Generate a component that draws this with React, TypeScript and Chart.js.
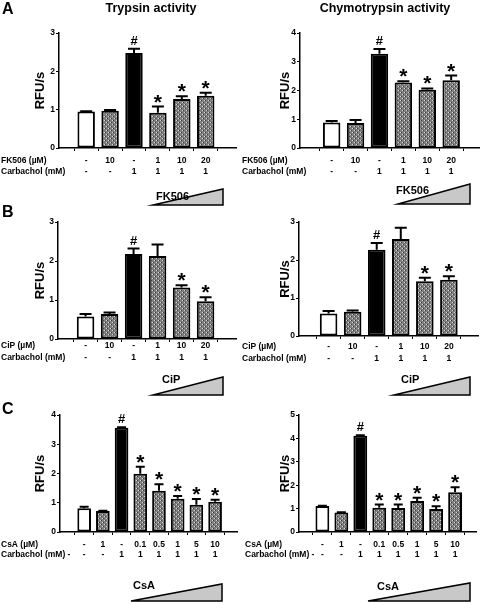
import React, { useEffect, useRef } from 'react';
import { Chart, registerables } from 'chart.js';

Chart.register(...registerables);

const FONT = '"Liberation Sans", Arial, sans-serif';

// ---------- data ----------
const trypsinFK = [0.95, 0.97, 2.48, 0.92, 1.28, 1.36];
const trypsinFKErr = [0.01, 0.02, 0.11, 0.16, 0.07, 0.08];
const chymoFK = [0.89, 0.87, 3.28, 2.28, 2.03, 2.36];
const chymoFKErr = [0.05, 0.1, 0.16, 0.04, 0.04, 0.16];

const trypsinCiP = [0.58, 0.64, 2.18, 2.13, 1.32, 0.97];
const trypsinCiPErr = [0.06, 0.04, 0.14, 0.29, 0.06, 0.1];
const chymoCiP = [0.59, 0.64, 2.27, 2.55, 1.44, 1.48];
const chymoCiPErr = [0.07, 0.03, 0.18, 0.3, 0.09, 0.09];

const trypsinCsA = [0.81, 0.72, 3.56, 1.99, 1.41, 1.14, 0.93, 1.03];
const trypsinCsAErr = [0.05, 0.01, 0.02, 0.24, 0.22, 0.09, 0.2, 0.07];
const chymoCsA = [1.11, 0.83, 4.11, 1.04, 1.03, 1.32, 0.98, 1.7];
const chymoCsAErr = [0.01, 0.01, 0.02, 0.13, 0.14, 0.14, 0.12, 0.21];

const marksAB6 = ['', '', '#', '*', '*', '*'];
const marksB6 = ['', '', '#', '', '*', '*'];
const marksC8 = ['', '', '#', '*', '*', '*', '*', '*'];

const groups6 = ['control', 'drug', 'carbachol', 'combo', 'combo', 'combo'];
const groups8 = ['control', 'drug', 'carbachol', 'combo', 'combo', 'combo', 'combo', 'combo'];

const fk506Doses = ['-', '10', '-', '1', '10', '20'];
const cipDoses = ['-', '10', '-', '1', '10', '20'];
const csaDoses = ['-', '1', '-', '0.1', '0.5', '1', '5', '10'];
const carbachol6 = ['-', '-', '1', '1', '1', '1'];
const carbachol8 = ['-', '-', '1', '1', '1', '1', '1', '1'];

const yMaxA = [3, 4];
const yMaxB = [3, 3];
const yMaxC = [4, 5];

type Wedge = { label: string; x0: number; x1: number; yb: number; yt: number; tx: number; ty: number };
type Cfg = {
  left: number; top: number; width: number; height: number;
  area: { l: number; r: number; t: number; b: number };
  gapL: number; gapR: number; yMax: number;
  values: number[]; errors: number[]; marks: string[]; groups: string[];
  rowNames: string[]; rows: string[][]; rowLabelX: number; rowY: number[];
  yTitleX: number; capHalf: number;
  title?: { text: string; x: number; y: number };
  letter?: { text: string; x: number; y: number };
  wedge: Wedge;
};

const panels: Cfg[] = [
  {
    left: 0, top: 0, width: 240, height: 212,
    area: { l: 59, r: 236, t: 33, b: 148 }, gapL: 0.02, gapR: 0.15, yMax: yMaxA[0],
    values: trypsinFK, errors: trypsinFKErr, marks: marksAB6, groups: groups6,
    rowNames: ['FK506 (\u00b5M)', 'Carbachol (mM)'], rows: [fk506Doses, carbachol6], rowLabelX: 1, rowY: [161, 172],
    yTitleX: 40, capHalf: 6,
    title: { text: 'Trypsin activity', x: 151, y: 12 },
    letter: { text: 'A', x: 2, y: 14 },
    wedge: { label: 'FK506', x0: 153, x1: 223, yb: 205, yt: 189, tx: 156, ty: 200 },
  },
  {
    left: 240, top: 0, width: 240, height: 212,
    area: { l: 300, r: 479, t: 33, b: 148 }, gapL: 0.2, gapR: 0.04, yMax: yMaxA[1],
    values: chymoFK, errors: chymoFKErr, marks: marksAB6, groups: groups6,
    rowNames: ['FK506 (\u00b5M)', 'Carbachol (mM)'], rows: [fk506Doses, carbachol6], rowLabelX: 242, rowY: [161, 172],
    yTitleX: 285, capHalf: 6,
    title: { text: 'Chymotrypsin activity', x: 385, y: 12 },
    wedge: { label: 'FK506', x0: 398, x1: 470, yb: 204, yt: 184, tx: 396, ty: 194 },
  },
  {
    left: 0, top: 198, width: 240, height: 202,
    area: { l: 58, r: 236, t: 222, b: 339 }, gapL: 0.03, gapR: 0.15, yMax: yMaxB[0],
    values: trypsinCiP, errors: trypsinCiPErr, marks: marksB6, groups: groups6,
    rowNames: ['CiP (\u00b5M)', 'Carbachol (mM)'], rows: [cipDoses, carbachol6], rowLabelX: 1, rowY: [346, 358],
    yTitleX: 40, capHalf: 6,
    letter: { text: 'B', x: 2, y: 217 },
    wedge: { label: 'CiP', x0: 153, x1: 223, yb: 395, yt: 377, tx: 162, ty: 383 },
  },
  {
    left: 240, top: 198, width: 240, height: 202,
    area: { l: 299, r: 478, t: 222, b: 336 }, gapL: 0.11, gapR: 0.09, yMax: yMaxB[1],
    values: chymoCiP, errors: chymoCiPErr, marks: marksB6, groups: groups6,
    rowNames: ['CiP (\u00b5M)', 'Carbachol (mM)'], rows: [cipDoses, carbachol6], rowLabelX: 242, rowY: [347, 359],
    yTitleX: 285, capHalf: 6,
    wedge: { label: 'CiP', x0: 394, x1: 470, yb: 395, yt: 377, tx: 401, ty: 383 },
  },
  {
    left: 0, top: 396, width: 240, height: 207,
    area: { l: 60, r: 237, t: 415, b: 532 }, gapL: 0.2, gapR: 0.08, yMax: yMaxC[0],
    values: trypsinCsA, errors: trypsinCsAErr, marks: marksC8, groups: groups8,
    rowNames: ['CsA (\u00b5M)', 'Carbachol (mM) -'], rows: [csaDoses, carbachol8], rowLabelX: 1, rowY: [544.5, 554.5],
    yTitleX: 40, capHalf: 4.5,
    letter: { text: 'C', x: 2, y: 414 },
    wedge: { label: 'CsA', x0: 131, x1: 222, yb: 601, yt: 584, tx: 133, ty: 589 },
  },
  {
    left: 240, top: 396, width: 240, height: 207,
    area: { l: 299, r: 476, t: 415, b: 532 }, gapL: 0.15, gapR: 0.02, yMax: yMaxC[1],
    values: chymoCsA, errors: chymoCsAErr, marks: marksC8, groups: groups8,
    rowNames: ['CsA (\u00b5M)', 'Carbachol (mM) -'], rows: [csaDoses, carbachol8], rowLabelX: 245, rowY: [544.5, 555],
    yTitleX: 285, capHalf: 4.5,
    wedge: { label: 'CsA', x0: 368, x1: 470, yb: 601, yt: 583, tx: 377, ty: 590 },
  },
];

const Y_AXIS_BOX = 16;

function makePattern(): CanvasPattern | string {
  const c = document.createElement('canvas');
  c.width = 4;
  c.height = 4;
  const g = c.getContext('2d');
  if (!g) return '#888';
  g.fillStyle = '#7e7e7e';
  g.fillRect(0, 0, 4, 4);
  g.fillStyle = '#d8d8d8';
  g.fillRect(0, 0, 1, 1);
  g.fillRect(2, 2, 1, 1);
  g.fillStyle = '#3a3a3a';
  g.fillRect(1, 0, 1, 1);
  g.fillRect(3, 2, 1, 1);
  return g.createPattern(c, 'repeat') || '#888';
}

function Panel({ cfg }: { cfg: Cfg }) {
  const ref = useRef<HTMLCanvasElement>(null);
  useEffect(() => {
    const canvas = ref.current;
    if (!canvas) return;
    const pattern = makePattern();
    const n = cfg.values.length;
    const ox = cfg.left;
    const oy = cfg.top;
    const l = cfg.area.l - ox;
    const r = cfg.area.r - ox;
    const t = cfg.area.t - oy;
    const b = cfg.area.b - oy;
    const fills = cfg.groups.map((g) => (g === 'control' ? '#ffffff' : g === 'carbachol' ? '#000000' : pattern));

    const overlay = {
      id: 'overlay',
      afterDatasetsDraw(chart: any) {
        const ctx = chart.ctx as CanvasRenderingContext2D;
        const xs = chart.scales.x;
        const ys = chart.scales.y;
        ctx.save();
        ctx.strokeStyle = '#000';
        ctx.lineWidth = 2;
        cfg.values.forEach((v, i) => {
          const x = xs.getPixelForValue(i);
          const y0 = ys.getPixelForValue(v);
          const y1 = ys.getPixelForValue(v + cfg.errors[i]);
          ctx.beginPath();
          ctx.moveTo(x, y0);
          ctx.lineTo(x, y1);
          ctx.moveTo(x - cfg.capHalf, y1);
          ctx.lineTo(x + cfg.capHalf, y1);
          ctx.stroke();
          const m = cfg.marks[i];
          if (m) {
            ctx.fillStyle = '#000';
            ctx.textAlign = 'center';
            ctx.textBaseline = 'alphabetic';
            ctx.font = m === '*' ? `bold 21px ${FONT}` : `bold 13px ${FONT}`;
            const met = ctx.measureText(m);
            const bottom = y1 - 4;
            ctx.fillText(m, x, bottom - met.actualBoundingBoxDescent);
          }
        });
        ctx.restore();
      },
      afterDraw(chart: any) {
        const ctx = chart.ctx as CanvasRenderingContext2D;
        const xs = chart.scales.x;
        const area = chart.chartArea;
        ctx.save();
        ctx.fillStyle = '#000';
        ctx.save();
        ctx.translate(cfg.yTitleX - ox, (area.top + area.bottom) / 2);
        ctx.rotate(-Math.PI / 2);
        ctx.font = `bold 13px ${FONT}`;
        ctx.textAlign = 'center';
        ctx.textBaseline = 'middle';
        ctx.fillText('RFU/s', 0, 0);
        ctx.restore();
        if (cfg.title) {
          ctx.font = `bold 12.5px ${FONT}`;
          ctx.textAlign = 'center';
          ctx.textBaseline = 'alphabetic';
          ctx.fillText(cfg.title.text, cfg.title.x - ox, cfg.title.y - oy);
        }
        if (cfg.letter) {
          ctx.font = `bold 16px ${FONT}`;
          ctx.textAlign = 'left';
          ctx.textBaseline = 'alphabetic';
          ctx.fillText(cfg.letter.text, cfg.letter.x - ox, cfg.letter.y - oy);
        }
        ctx.font = `bold 8.5px ${FONT}`;
        ctx.textBaseline = 'middle';
        cfg.rowNames.forEach((name, ri) => {
          const y = cfg.rowY[ri] - oy;
          ctx.textAlign = 'left';
          ctx.fillText(name, cfg.rowLabelX - ox, y);
          ctx.textAlign = 'center';
          cfg.rows[ri].forEach((txt, i) => {
            ctx.fillText(txt, xs.getPixelForValue(i), y);
          });
        });
        const w = cfg.wedge;
        ctx.beginPath();
        ctx.moveTo(w.x0 - ox, w.yb - oy);
        ctx.lineTo(w.x1 - ox, w.yb - oy);
        ctx.lineTo(w.x1 - ox, w.yt - oy);
        ctx.closePath();
        ctx.fillStyle = '#c8c8c8';
        ctx.fill();
        ctx.strokeStyle = '#000';
        ctx.lineWidth = 1.5;
        ctx.lineJoin = 'miter';
        ctx.stroke();
        ctx.fillStyle = '#000';
        ctx.font = `bold 11px ${FONT}`;
        ctx.textAlign = 'left';
        ctx.textBaseline = 'alphabetic';
        ctx.fillText(w.label, w.tx - ox, w.ty - oy);
        ctx.restore();
      },
    };

    const chart = new Chart(canvas, {
      type: 'bar',
      data: {
        datasets: [
          {
            data: cfg.values.map((v, i) => ({ x: i, y: v })),
            backgroundColor: fills as any,
            borderColor: '#000',
            borderWidth: 2,
            borderSkipped: false,
            barPercentage: 0.73,
            categoryPercentage: 1,
          } as any,
        ],
      },
      options: {
        responsive: false,
        animation: false,
        devicePixelRatio: 1,
        layout: { padding: { left: l - Y_AXIS_BOX, top: t, right: cfg.width - r, bottom: cfg.height - b } },
        plugins: { legend: { display: false }, tooltip: { enabled: false }, title: { display: false } },
        scales: {
          x: {
            type: 'linear',
            min: -0.5 - cfg.gapL,
            max: n - 0.5 + cfg.gapR,
            afterFit: (s: any) => {
              s.height = 0;
            },
            ticks: { stepSize: 1, includeBounds: false, callback: () => '' },
            grid: { drawOnChartArea: false, drawTicks: true, tickLength: 3, color: '#000', lineWidth: 1 },
            border: { display: true, color: '#000', width: 1.5 },
          } as any,
          y: {
            min: 0,
            max: cfg.yMax,
            afterFit: (s: any) => {
              s.width = Y_AXIS_BOX;
            },
            ticks: { stepSize: 1, color: '#000', padding: 1, font: { family: FONT, size: 8.5, weight: 'bold' } },
            grid: { drawOnChartArea: false, drawTicks: true, tickLength: 3, color: '#000', lineWidth: 1 },
            border: { display: true, color: '#000', width: 1.5 },
          } as any,
        },
      },
      plugins: [overlay],
    });
    return () => chart.destroy();
  }, []);
  return (
    <canvas
      ref={ref}
      width={cfg.width}
      height={cfg.height}
      style={{ position: 'absolute', left: cfg.left, top: cfg.top, width: cfg.width, height: cfg.height }}
    />
  );
}

export default function App() {
  return (
    <div style={{ position: 'absolute', left: 0, top: 0, width: 480, height: 603, background: '#fff', overflow: 'hidden' }}>
      {panels.map((p, i) => (
        <Panel key={i} cfg={p} />
      ))}
    </div>
  );
}
